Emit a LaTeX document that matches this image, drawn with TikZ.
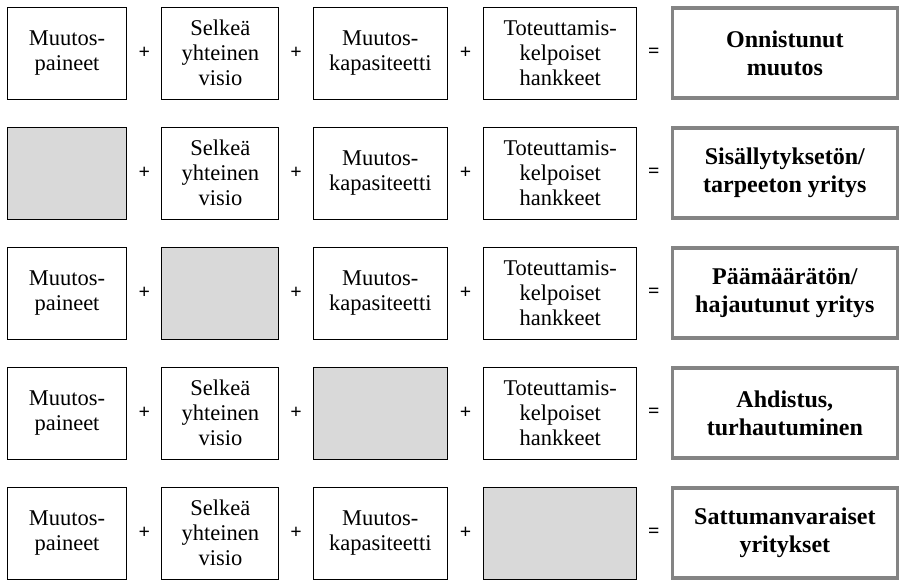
\documentclass[tikz,border=0pt]{standalone}
\usepackage{fontspec}
\setmainfont{Liberation Serif}
\usetikzlibrary{positioning}
\definecolor{harmaa}{HTML}{D9D9D9}
\definecolor{reunus}{HTML}{848484}

\begin{document}
\begin{tikzpicture}[x=1pt, y=-1pt,
    tekija/.style={draw, line width=1pt, minimum height=92pt, align=center, inner sep=0pt, font=\fontsize{22.5}{25}\selectfont},
    puuttuu/.style={tekija, fill=harmaa},
    tulos/.style={draw=reunus, line width=3.5pt, minimum width=225pt, minimum height=90pt, align=center, inner sep=0pt, font=\fontsize{24}{28}\selectfont\bfseries},
    merkki/.style={minimum height=92pt, inner sep=0pt, font=\fontsize{20}{20}\selectfont\bfseries}]
    \useasboundingbox (0,0) rectangle (900,581);

    % rivi 1
    \node[tekija, minimum width=119pt] (p1) at (67,53) {Muutos-\\paineet};
    \node[merkki, minimum width=34pt, right=0pt of p1] (m1a) {+};
    \node[tekija, minimum width=117pt, right=0pt of m1a] (v1) {Selkeä\\yhteinen\\visio};
    \node[merkki, minimum width=33pt, right=0pt of v1] (m1b) {+};
    \node[tekija, minimum width=134pt, right=0pt of m1b] (k1) {Muutos-\\kapasiteetti};
    \node[merkki, minimum width=35pt, right=0pt of k1] (m1c) {+};
    \node[tekija, minimum width=153pt, right=0pt of m1c] (h1) {Toteuttamis-\\kelpoiset\\hankkeet};
    \node[merkki, minimum width=33pt, right=0pt of h1] (m1d) {=};
    \node[tulos, right=0pt of m1d] (t1) {Onnistunut\\muutos};

    % rivi 2
    \node[puuttuu, minimum width=119pt] (p2) at (67,173) {};
    \node[merkki, minimum width=34pt, right=0pt of p2] (m2a) {+};
    \node[tekija, minimum width=117pt, right=0pt of m2a] (v2) {Selkeä\\yhteinen\\visio};
    \node[merkki, minimum width=33pt, right=0pt of v2] (m2b) {+};
    \node[tekija, minimum width=134pt, right=0pt of m2b] (k2) {Muutos-\\kapasiteetti};
    \node[merkki, minimum width=35pt, right=0pt of k2] (m2c) {+};
    \node[tekija, minimum width=153pt, right=0pt of m2c] (h2) {Toteuttamis-\\kelpoiset\\hankkeet};
    \node[merkki, minimum width=33pt, right=0pt of h2] (m2d) {=};
    \node[tulos, right=0pt of m2d] (t2) {Sisällytyksetön/\\tarpeeton yritys};

    % rivi 3
    \node[tekija, minimum width=119pt] (p3) at (67,293) {Muutos-\\paineet};
    \node[merkki, minimum width=34pt, right=0pt of p3] (m3a) {+};
    \node[puuttuu, minimum width=117pt, right=0pt of m3a] (v3) {};
    \node[merkki, minimum width=33pt, right=0pt of v3] (m3b) {+};
    \node[tekija, minimum width=134pt, right=0pt of m3b] (k3) {Muutos-\\kapasiteetti};
    \node[merkki, minimum width=35pt, right=0pt of k3] (m3c) {+};
    \node[tekija, minimum width=153pt, right=0pt of m3c] (h3) {Toteuttamis-\\kelpoiset\\hankkeet};
    \node[merkki, minimum width=33pt, right=0pt of h3] (m3d) {=};
    \node[tulos, right=0pt of m3d] (t3) {Päämäärätön/\\hajautunut yritys};

    % rivi 4
    \node[tekija, minimum width=119pt] (p4) at (67,413) {Muutos-\\paineet};
    \node[merkki, minimum width=34pt, right=0pt of p4] (m4a) {+};
    \node[tekija, minimum width=117pt, right=0pt of m4a] (v4) {Selkeä\\yhteinen\\visio};
    \node[merkki, minimum width=33pt, right=0pt of v4] (m4b) {+};
    \node[puuttuu, minimum width=134pt, right=0pt of m4b] (k4) {};
    \node[merkki, minimum width=35pt, right=0pt of k4] (m4c) {+};
    \node[tekija, minimum width=153pt, right=0pt of m4c] (h4) {Toteuttamis-\\kelpoiset\\hankkeet};
    \node[merkki, minimum width=33pt, right=0pt of h4] (m4d) {=};
    \node[tulos, right=0pt of m4d] (t4) {Ahdistus,\\turhautuminen};

    % rivi 5
    \node[tekija, minimum width=119pt] (p5) at (67,533) {Muutos-\\paineet};
    \node[merkki, minimum width=34pt, right=0pt of p5] (m5a) {+};
    \node[tekija, minimum width=117pt, right=0pt of m5a] (v5) {Selkeä\\yhteinen\\visio};
    \node[merkki, minimum width=33pt, right=0pt of v5] (m5b) {+};
    \node[tekija, minimum width=134pt, right=0pt of m5b] (k5) {Muutos-\\kapasiteetti};
    \node[merkki, minimum width=35pt, right=0pt of k5] (m5c) {+};
    \node[puuttuu, minimum width=153pt, right=0pt of m5c] (h5) {};
    \node[merkki, minimum width=33pt, right=0pt of h5] (m5d) {=};
    \node[tulos, right=0pt of m5d] (t5) {Sattumanvaraiset\\yritykset};
\end{tikzpicture}
\end{document}
